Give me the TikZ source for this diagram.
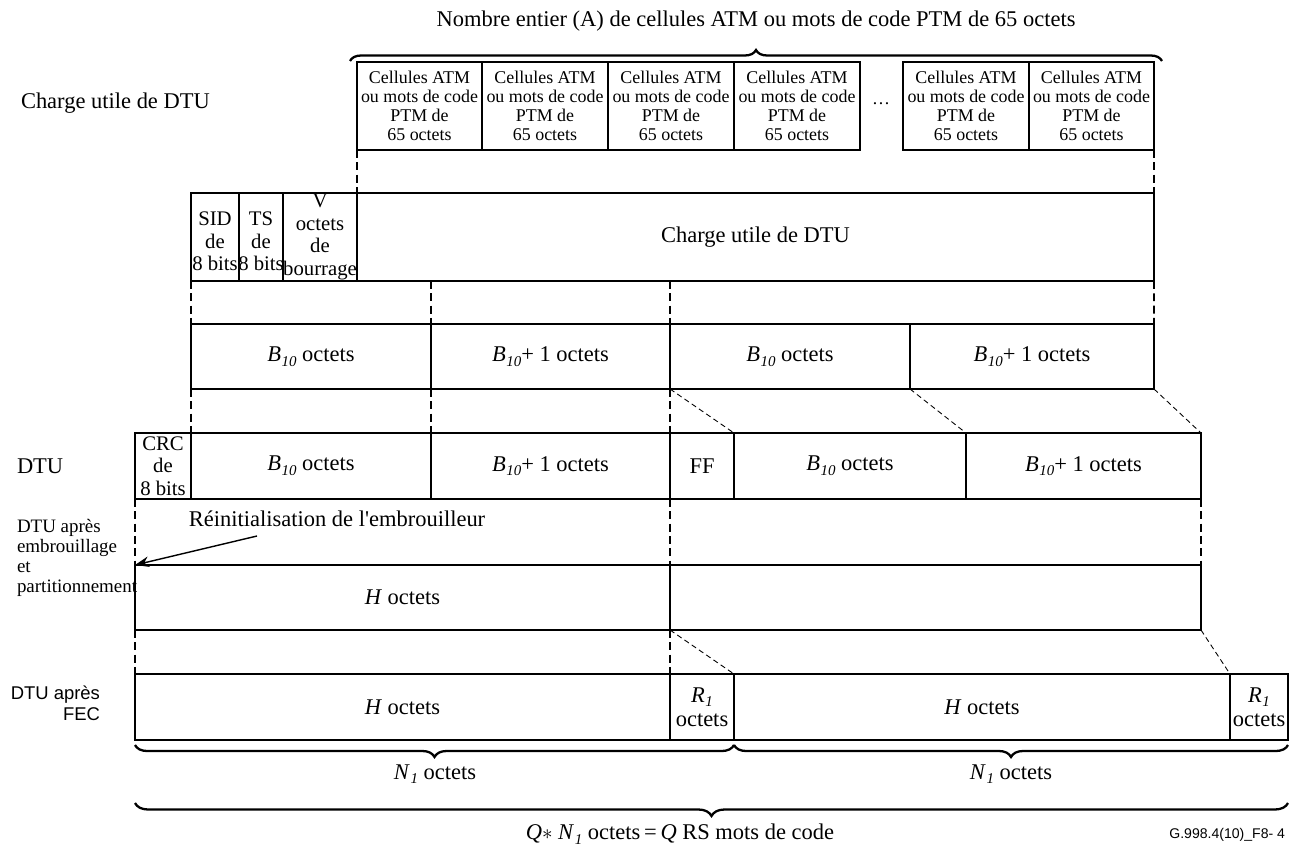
\documentclass[tikz,border=0pt]{standalone}
\usepackage{fontspec}
\setmainfont{Liberation Serif}
\newfontfamily\plainserif{Liberation Serif}
\newfontfamily\arialfont{Liberation Sans}
\usetikzlibrary{decorations.pathreplacing,arrows.meta,calc}

% text sizes
\newcommand\fbig{\fontsize{12.8}{14.5}\selectfont}
\newcommand\fmid{\fontsize{11.8}{12.9}\selectfont}
\newcommand\fcell{\fontsize{10.2}{10.9}\selectfont}
\newcommand\flab{\fontsize{10.8}{11.4}\selectfont}
\newcommand\fsans{\arialfont\fontsize{10.5}{12}\selectfont}
\newcommand\ftag{\arialfont\fontsize{8}{9}\selectfont}

% italic symbols with italic subscripts
\newcommand\subit[2]{\textit{#1}\kern0.3pt\raisebox{-0.45ex}{\fontsize{8.5}{8.5}\selectfont\itshape #2}}
\newcommand\Bten{\subit{B}{10}}
\newcommand\Rone{\subit{R}{1}}
\newcommand\None{\subit{N}{1}}

% box from (x1,y1) to (x2,y2) in pixel units
\newcommand\blk[7][]{%
  \node[box,#1,minimum width={(#5-#3)*0.02cm},minimum height={(#6-#4)*0.02cm}]
    (#2) at ({(#3+#5)/2},{(#4+#6)/2}) {#7};}

\newcommand\atmtxt{Cellules ATM\\ou mots de code\\PTM de\\65 octets}

\begin{document}
\begin{tikzpicture}[x=0.02cm,y=-0.02cm,
  box/.style={draw,line width=0.6pt,inner sep=0pt,outer sep=0pt,align=center,font=\fbig},
  cellfont/.style={font=\fcell},
  midfont/.style={font=\fmid},
  vdash/.style={line width=0.9pt,dash pattern=on 4.5pt off 2.5pt},
  ddash/.style={line width=0.5pt,dash pattern=on 3pt off 2pt},
  bracedec/.style={decorate,decoration={brace,amplitude=#1},line width=1.3pt},
  lbl/.style={inner sep=0pt,outer sep=0pt}]

\useasboundingbox (0,0) rectangle (1294,848);

% ---- cells of the payload
\blk[cellfont]{a1}{357}{62}{482}{150}{\atmtxt}
\blk[cellfont]{a2}{482}{62}{608}{150}{\atmtxt}
\blk[cellfont]{a3}{608}{62}{734}{150}{\atmtxt}
\blk[cellfont]{a4}{734}{62}{860}{150}{\atmtxt}
\blk[cellfont]{a5}{903}{62}{1029}{150}{\atmtxt}
\blk[cellfont]{a6}{1029}{62}{1154}{150}{\atmtxt}
\node[lbl,font=\fcell] (dots) at (881,104) {\dots};

% ---- headers and payload
\blk[midfont]{sid}{191}{193}{239}{281}{\mbox{}\\SID\\de\\8 bits}
\blk[midfont]{ts}{239}{193}{283}{281}{\mbox{}\\TS\\de\\8 bits}
\blk[midfont]{vb}{283}{193}{357}{281}{V\\octets\\de\\bourrage}
\blk{pay}{357}{193}{1154}{281}{Charge utile de DTU}

% ---- split into blocks
\blk{c1}{191}{324}{431}{389}{\Bten\ octets}
\blk{c2}{431}{324}{670}{389}{\Bten+ 1 octets}
\blk{c3}{670}{324}{910}{389}{\Bten\ octets}
\blk{c4}{910}{324}{1154}{389}{\Bten+ 1 octets}

% ---- DTU
\blk[midfont]{crc}{135}{433}{191}{499}{CRC\\de\\8 bits}
\blk{d1}{191}{433}{431}{499}{\Bten\ octets}
\blk{d2}{431}{433}{670}{499}{\Bten+ 1 octets}
\blk{ff}{670}{433}{734}{499}{FF}
\blk{d3}{734}{433}{966}{499}{\Bten\ octets}
\blk{d4}{966}{433}{1201}{499}{\Bten+ 1 octets}

% ---- after scrambling
\blk{e1}{135}{565}{670}{630}{\textit{H} octets}
\blk{e2}{670}{565}{1201}{630}{}

% ---- after FEC
\blk{f1}{135}{674}{670}{740}{\textit{H} octets}
\blk[font={\fontsize{12.8}{13.6}\selectfont}]{f2}{670}{674}{734}{740}{\Rone\\octets}
\blk{f3}{734}{674}{1230}{740}{\textit{H} octets}
\blk[font={\fontsize{12.8}{13.6}\selectfont}]{f4}{1230}{674}{1288}{740}{\Rone\\octets}

% ---- dashed guides
\draw[vdash] (a1.south west) -- (pay.north west);
\draw[vdash] (a6.south east) -- (pay.north east);
\draw[vdash] (sid.south west) -- (c1.north west);
\draw[vdash] (c2.north west |- pay.south) -- (c2.north west);
\draw[vdash] (c3.north west |- pay.south) -- (c3.north west);
\draw[vdash] (pay.south east) -- (c4.north east);

\draw[vdash] (c1.south west) -- (d1.north west);
\draw[vdash] (c2.south west) -- (d2.north west);
\draw[vdash] (c3.south west) -- (ff.north west);
\draw[ddash] (c3.south west) -- (d3.north west);
\draw[ddash] (c4.south west) -- (d4.north west);
\draw[ddash] (c4.south east) -- (d4.north east);

\draw[vdash] (crc.south west) -- (e1.north west);
\draw[vdash] (ff.south west) -- (e2.north west);
\draw[vdash] (d4.south east) -- (e2.north east);

\draw[vdash] (e1.south west) -- (f1.north west);
\draw[vdash] (e2.south west) -- (f2.north west);
\draw[ddash] (e2.south west) -- (f3.north west);
\draw[ddash] (e2.south east) -- (f4.north west);

% ---- scrambler reset
\node[lbl,font={\plainserif\fbig}] (reset) at (337,519) {Réinitialisation de l'embrouilleur};
\coordinate (rs) at (257,536);
\draw[line width=0.8pt,-{Stealth[length=8pt,width=6pt]}] (rs) -- (e1.north west);

% ---- braces
\coordinate (tb1) at (350,61);
\coordinate (tb2) at (1162,61);
\draw[bracedec=0.22cm] (tb1) -- (tb2);
\node[lbl,font=\fbig] (title) at (756,21) {Nombre entier (A) de cellules ATM ou mots de code PTM de 65 octets};

\coordinate (b1l) at (135,745);
\coordinate (b1r) at (734,745);
\coordinate (b2r) at (1288,745);
\draw[bracedec=0.24cm] (b1r) -- (b1l);
\draw[bracedec=0.24cm] (b2r) -- (b1r);
\node[lbl,font=\fbig] (n1a) at (435,774) {\None\ octets};
\node[lbl,font=\fbig] (n1b) at (1011,774) {\None\ octets};

\coordinate (b3l) at (135,803);
\coordinate (b3r) at (1288,803);
\draw[bracedec=0.26cm] (b3r) -- (b3l);
\node[lbl,font=\fbig] (qtot) at (680,834) {\textit{Q}$\ast$ \None\ octets\,=\,\textit{Q} RS mots de code};

% ---- row labels
\node[lbl,font=\fbig,anchor=west] (lpay) at (21,103) {Charge utile de DTU};
\node[lbl,font=\fbig,anchor=west] (ldtu) at (17,466) {DTU};
\node[lbl,font=\flab,anchor=north west,align=left] (lscr) at (17,519)
  {DTU après\\embrouillage\\et\\partitionnement};
\node[lbl,font=\fsans,anchor=east,align=right] (lfec) at (100,703) {DTU après\\FEC};
\node[lbl,font=\ftag,anchor=east] (tag) at (1285,835) {G.998.4(10)\_F8- 4};

\end{tikzpicture}
\end{document}
